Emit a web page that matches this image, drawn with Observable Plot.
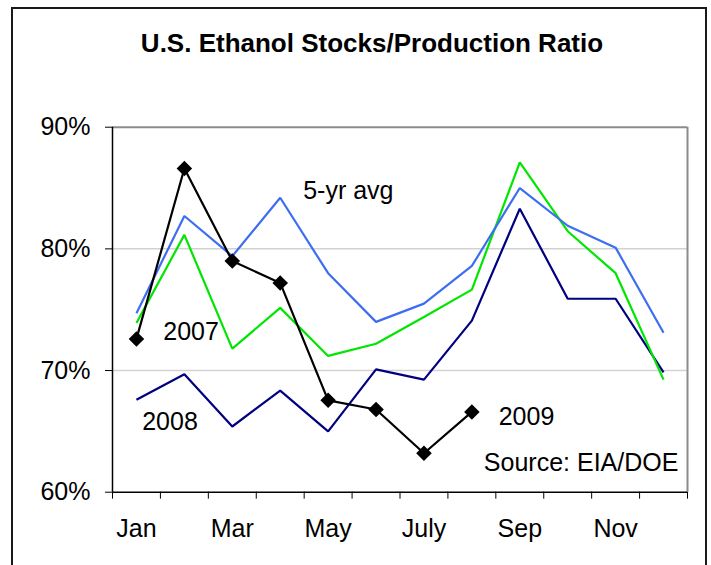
<!DOCTYPE html>
<html>
<head>
<meta charset="utf-8">
<script src="https://cdn.jsdelivr.net/npm/d3@7"></script>
<script src="https://cdn.jsdelivr.net/npm/@observablehq/plot@0.6"></script>
<style>
  html, body { margin: 0; padding: 0; background: #fff; overflow: hidden; }
  #wrap { position: relative; width: 711px; height: 565px; overflow: hidden; font-family: "Liberation Sans", Arial, sans-serif; }
  #frame { position: absolute; left: 11px; top: 7px; width: 696px; height: 620px; box-sizing: border-box;
           border: 2px solid #1a1a1a; }
  #title { position: absolute; left: 0; top: 29.7px; width: 744px; text-align: center;
           font-weight: bold; font-size: 26px; line-height: 26px; color: #000; }
  #chart { position: absolute; left: 0; top: 0; }
</style>
</head>
<body>
<div id="wrap">
  <div id="frame"></div>
  <div id="title">U.S. Ethanol Stocks/Production Ratio</div>
  <div id="chart"></div>
</div>
<script>
// ---- data ----
const months = [1, 2, 3, 4, 5, 6, 7, 8, 9, 10, 11, 12];
const monthNames = ["Jan","Feb","Mar","Apr","May","Jun","Jul","Aug","Sep","Oct","Nov","Dec"];
const avg5yr = [74.7, 82.7, 79.4, 84.2, 78.0, 74.0, 75.5, 78.6, 85.0, 81.9, 80.1, 73.1];
const y2007  = [73.9, 81.15, 71.8, 75.15, 71.2, 72.2, 74.4, 76.65, 87.1, 81.45, 78.0, 69.25];
const y2008  = [67.6, 69.7, 65.4, 68.35, 65.0, 70.1, 69.25, 74.1, 83.3, 75.9, 75.9, 69.85];
const y2009  = [72.6, 86.6, 79.0, 77.2, 67.55, 66.8, 63.2, 66.6];
const yTicks = [60, 70, 80, 90];
const xLabelMonths = [1, 3, 5, 7, 9, 11];
const xTickLabels = ["Jan", "Mar", "May", "July", "Sep", "Nov"];
const seriesLabels = ["5-yr avg", "2007", "2008", "2009"];
const sourceLabel = "Source: EIA/DOE";

// ---- build rows ----
const rows = vals => vals.map((v, i) => ({month: months[i], value: v}));
const d5 = rows(avg5yr), d07 = rows(y2007), d08 = rows(y2008), d09 = rows(y2009);
const boundaries = d3.range(0, 13).map(i => i + 0.5);

// annotation placement (in data coordinates)
const annPos = [
  {x: 4.48, y: 84.11},
  {x: 1.56, y: 72.52},
  {x: 1.12, y: 65.15},
  {x: 8.56, y: 65.54}
];
const ann = seriesLabels.map((t, i) => ({text: t, ...annPos[i]}));
const src = [{text: sourceLabel, x: 12.31, y: 61.73}];

const font = "'Liberation Sans', Arial, sans-serif";
const lineOpts = {x: "month", y: "value", strokeWidth: 2.2, strokeLinejoin: "miter", strokeLinecap: "butt"};

const chart = Plot.plot({
  width: 711,
  height: 565,
  marginLeft: 112,
  marginRight: 24,
  marginTop: 126.7,
  marginBottom: 73.3,
  style: {fontFamily: font, fontSize: "25px", color: "#000", background: "transparent", overflow: "visible"},
  x: {domain: [0.5, 12.5], label: null},
  y: {domain: [60, 90], label: null},
  marks: [
    Plot.ruleY([70, 80], {stroke: "#d2d2d2", strokeWidth: 1.5}),
    Plot.ruleY([90], {stroke: "#8c8c8c", strokeWidth: 2}),
    Plot.ruleX([12.5], {stroke: "#8c8c8c", strokeWidth: 2}),
    Plot.line(d08, {...lineOpts, stroke: "#000080"}),
    Plot.line(d07, {...lineOpts, stroke: "#00e600"}),
    Plot.line(d5, {...lineOpts, stroke: "#3d6ef2"}),
    Plot.line(d09, {...lineOpts, stroke: "#000"}),
    Plot.dot(d09, {x: "month", y: "value", symbol: "diamond2", r: 7, fill: "#000", stroke: "none"}),
    Plot.ruleX([0.5], {stroke: "#000", strokeWidth: 1.5}),
    Plot.ruleY([60], {stroke: "#000", strokeWidth: 1.5}),
    Plot.axisY({ticks: yTicks, tickSize: 7, tickPadding: 15, tickFormat: d => `${d}%`, fontSize: 25, label: null}),
    Plot.axisX({ticks: boundaries, tickSize: 7, tickFormat: () => "", label: null}),
    Plot.axisX({ticks: xLabelMonths, tickSize: 0, tickPadding: 27.5,
                tickFormat: d => xTickLabels[xLabelMonths.indexOf(d)], fontSize: 25, label: null}),
    Plot.text(ann, {x: "x", y: "y", text: "text", textAnchor: "start", lineAnchor: "bottom",
                    fontSize: 25, fill: "#000"}),
    Plot.text(src, {x: "x", y: "y", text: "text", textAnchor: "end", lineAnchor: "bottom",
                    fontSize: 25, fill: "#000"})
  ]
});
document.getElementById("chart").appendChild(chart);
</script>
</body>
</html>
